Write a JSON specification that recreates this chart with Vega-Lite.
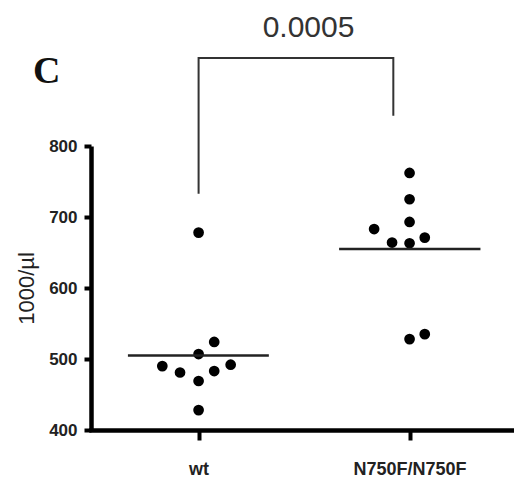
{
  "$schema": "https://vega.github.io/schema/vega-lite/v6.json",
  "width": 423,
  "height": 284,
  "autosize": "none",
  "padding": {"left": 91, "top": 146, "right": 0, "bottom": 49},
  "background": "white",
  "title": {
    "text": "C",
    "anchor": "start",
    "frame": "group",
    "orient": "top",
    "baseline": "alphabetic",
    "offset": -108,
    "dx": -58,
    "font": "Liberation Serif",
    "fontSize": 38,
    "fontWeight": "bold",
    "color": "#111"
  },
  "config": {
    "view": {"stroke": null},
    "axis": {"grid": false}
  },
  "datasets": {
    "points": [
      {"genotype": "wt", "x": 1.0, "count": 678},
      {"genotype": "wt", "x": 1.074, "count": 524},
      {"genotype": "wt", "x": 1.0, "count": 507},
      {"genotype": "wt", "x": 0.828, "count": 490},
      {"genotype": "wt", "x": 0.912, "count": 481},
      {"genotype": "wt", "x": 1.074, "count": 483},
      {"genotype": "wt", "x": 1.152, "count": 492},
      {"genotype": "wt", "x": 1.0, "count": 469},
      {"genotype": "wt", "x": 1.0, "count": 428},
      {"genotype": "N750F/N750F", "x": 2.0, "count": 762},
      {"genotype": "N750F/N750F", "x": 2.0, "count": 725},
      {"genotype": "N750F/N750F", "x": 2.0, "count": 693},
      {"genotype": "N750F/N750F", "x": 1.832, "count": 683},
      {"genotype": "N750F/N750F", "x": 2.072, "count": 671},
      {"genotype": "N750F/N750F", "x": 1.917, "count": 664},
      {"genotype": "N750F/N750F", "x": 2.0, "count": 663},
      {"genotype": "N750F/N750F", "x": 2.0, "count": 528},
      {"genotype": "N750F/N750F", "x": 2.072, "count": 535}
    ],
    "means": [
      {"genotype": "wt", "x": 0.665, "x2": 1.333, "mean": 505},
      {"genotype": "N750F/N750F", "x": 1.666, "x2": 2.336, "mean": 655}
    ],
    "bracket": [
      {"x": 1.0, "y": 734, "k": 1},
      {"x": 1.0, "y": 924, "k": 2},
      {"x": 1.923, "y": 924, "k": 3},
      {"x": 1.923, "y": 844, "k": 4}
    ],
    "pvalue": [
      {"x": 1.521, "y": 954, "label": "0.0005"}
    ]
  },
  "layer": [
    {
      "data": {"name": "points"},
      "mark": {"type": "circle", "size": 115, "color": "black", "opacity": 1},
      "encoding": {
        "x": {
          "field": "x",
          "type": "quantitative",
          "scale": {"domain": [0.49, 2.495], "nice": false, "zero": false},
          "axis": {
            "title": null,
            "values": [1, 2],
            "labelExpr": "datum.value == 1 ? 'wt' : 'N750F/N750F'",
            "labelFont": "Liberation Sans",
            "labelFontSize": 18,
            "labelFontWeight": "bold",
            "labelColor": "#222",
            "labelPadding": 20,
            "tickSize": 10,
            "tickWidth": 4,
            "tickColor": "black",
            "domainWidth": 4.5,
            "domainColor": "black",
            "domainCap": "square"
          }
        },
        "y": {
          "field": "count",
          "type": "quantitative",
          "scale": {"domain": [400, 800], "nice": false, "zero": false},
          "axis": {
            "title": "1000/µl",
            "titleFont": "Liberation Sans",
            "titleFontSize": 22,
            "titleFontWeight": "normal",
            "titleColor": "#222",
            "titlePadding": 10,
            "values": [400, 500, 600, 700, 800],
            "labelFont": "Liberation Sans",
            "labelFontSize": 17,
            "labelFontWeight": "bold",
            "labelColor": "#222",
            "labelPadding": 7,
            "tickSize": 7,
            "tickWidth": 4,
            "tickColor": "black",
            "domainWidth": 4.5,
            "domainColor": "black"
          }
        }
      }
    },
    {
      "data": {"name": "means"},
      "mark": {"type": "rule", "strokeWidth": 2.5, "color": "#222"},
      "encoding": {
        "x": {"field": "x", "type": "quantitative"},
        "x2": {"field": "x2"},
        "y": {"field": "mean", "type": "quantitative"}
      }
    },
    {
      "data": {"name": "bracket"},
      "mark": {"type": "line", "strokeWidth": 2, "color": "#333", "strokeCap": "square", "strokeJoin": "miter"},
      "encoding": {
        "x": {"field": "x", "type": "quantitative"},
        "y": {"field": "y", "type": "quantitative"},
        "order": {"field": "k", "type": "quantitative"}
      }
    },
    {
      "data": {"name": "pvalue"},
      "mark": {"type": "text", "font": "Liberation Sans", "fontSize": 30, "color": "#333", "baseline": "alphabetic", "align": "center"},
      "encoding": {
        "x": {"field": "x", "type": "quantitative"},
        "y": {"field": "y", "type": "quantitative"},
        "text": {"field": "label"}
      }
    }
  ]
}
